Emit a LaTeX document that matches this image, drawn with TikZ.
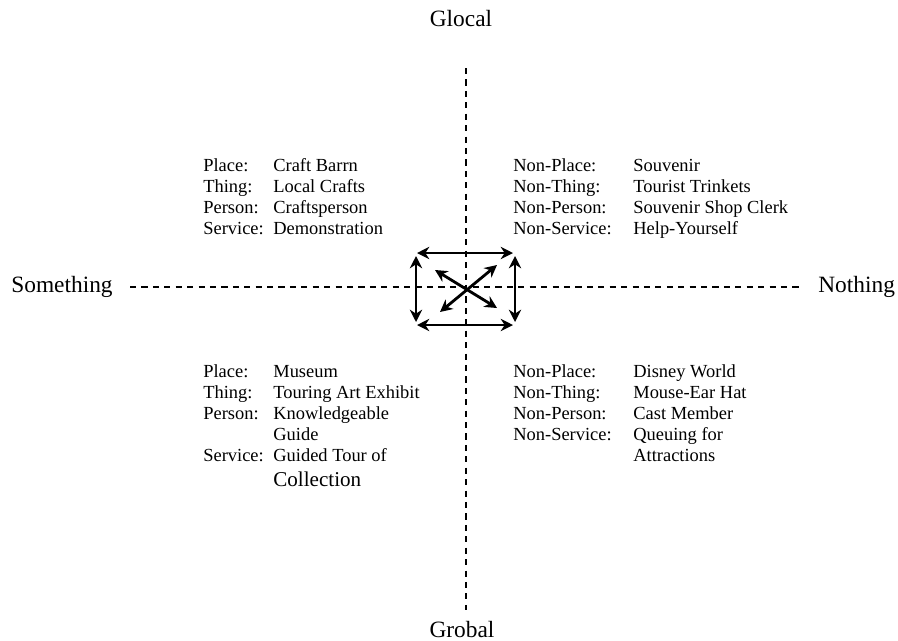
\documentclass[tikz,border=0pt]{standalone}
\usepackage{fontspec}
\setmainfont{Liberation Serif}
\usetikzlibrary{arrows.meta}

\tikzset{
  axis/.style={line width=0.9pt, dash pattern=on 3.5pt off 3pt},
  item/.style={anchor=base west, inner sep=0pt, font=\fontsize{10.5}{12}\selectfont},
  pole/.style={anchor=base, inner sep=0pt, font=\fontsize{13.3}{16}\selectfont},
  link/.style={{Stealth[length=7pt,width=7pt]}-{Stealth[length=7pt,width=7pt]}, line width=1.6pt},
}

\begin{document}
\begin{tikzpicture}[x=0.02cm, y=-0.02cm]
\useasboundingbox (0,0) rectangle (898,640);

% axes
\coordinate (top) at (466,68);
\coordinate (bot) at (466,610);
\coordinate (lft) at (130,287);
\coordinate (rgt) at (800,287);
\draw[axis] (top) -- (bot);
\draw[axis] (lft) -- (rgt);

\node[pole] (glocal) at (461,26) {Glocal};
\node[pole] (grobal) at (462,637) {Grobal};
\node[pole, anchor=base west] (something) at (11,292) {Something};
\node[pole, anchor=base west] (nothing) at (818,292) {Nothing};

% top left
\node[item] (tl1) at (203,171) {Place:};
\node[item] (tl2) at (203,192) {Thing:};
\node[item] (tl3) at (203,213) {Person:};
\node[item] (tl4) at (203,234) {Service:};
\node[item] (tv1) at (273,171) {Craft Barrn};
\node[item] (tv2) at (273,192) {Local Crafts};
\node[item] (tv3) at (273,213) {Craftsperson};
\node[item] (tv4) at (273,234) {Demonstration};

% top right
\node[item] (tr1) at (513,171) {Non-Place:};
\node[item] (tr2) at (513,192) {Non-Thing:};
\node[item] (tr3) at (513,213) {Non-Person:};
\node[item] (tr4) at (513,234) {Non-Service:};
\node[item] (tw1) at (633,171) {Souvenir};
\node[item] (tw2) at (633,192) {Tourist Trinkets};
\node[item] (tw3) at (633,213) {Souvenir Shop Clerk};
\node[item] (tw4) at (633,234) {Help-Yourself};

% bottom left
\node[item] (bl1) at (203,377) {Place:};
\node[item] (bl2) at (203,398) {Thing:};
\node[item] (bl3) at (203,419) {Person:};
\node[item] (bl4) at (203,461) {Service:};
\node[item] (bv1) at (273,377) {Museum};
\node[item] (bv2) at (273,398) {Touring Art Exhibit};
\node[item] (bv3) at (273,419) {Knowledgeable};
\node[item] (bv4) at (273,440) {Guide};
\node[item] (bv5) at (273,461) {Guided Tour of};
\node[item, font=\fontsize{12}{14}\selectfont] (bv6) at (273,486) {Collection};

% bottom right
\node[item] (br1) at (513,377) {Non-Place:};
\node[item] (br2) at (513,398) {Non-Thing:};
\node[item] (br3) at (513,419) {Non-Person:};
\node[item] (br4) at (513,440) {Non-Service:};
\node[item] (bw1) at (633,377) {Disney World};
\node[item] (bw2) at (633,398) {Mouse-Ear Hat};
\node[item] (bw3) at (633,419) {Cast Member};
\node[item] (bw4) at (633,440) {Queuing for};
\node[item] (bw5) at (633,461) {Attractions};

% arrows in the middle
\coordinate (a1) at (417,253);
\coordinate (a2) at (513,253);
\coordinate (a3) at (417,325);
\coordinate (a4) at (513,325);
\coordinate (b1) at (416,256);
\coordinate (b2) at (416,322);
\coordinate (b3) at (515,256);
\coordinate (b4) at (515,322);
\coordinate (c1) at (435,270);
\coordinate (c2) at (497,308);
\coordinate (c3) at (440,312);
\coordinate (c4) at (497,265);
\draw[link] (a1) -- (a2);
\draw[link] (a3) -- (a4);
\draw[link] (b1) -- (b2);
\draw[link] (b3) -- (b4);
\draw[link] (c1) -- (c2);
\draw[link] (c3) -- (c4);
\end{tikzpicture}
\end{document}
